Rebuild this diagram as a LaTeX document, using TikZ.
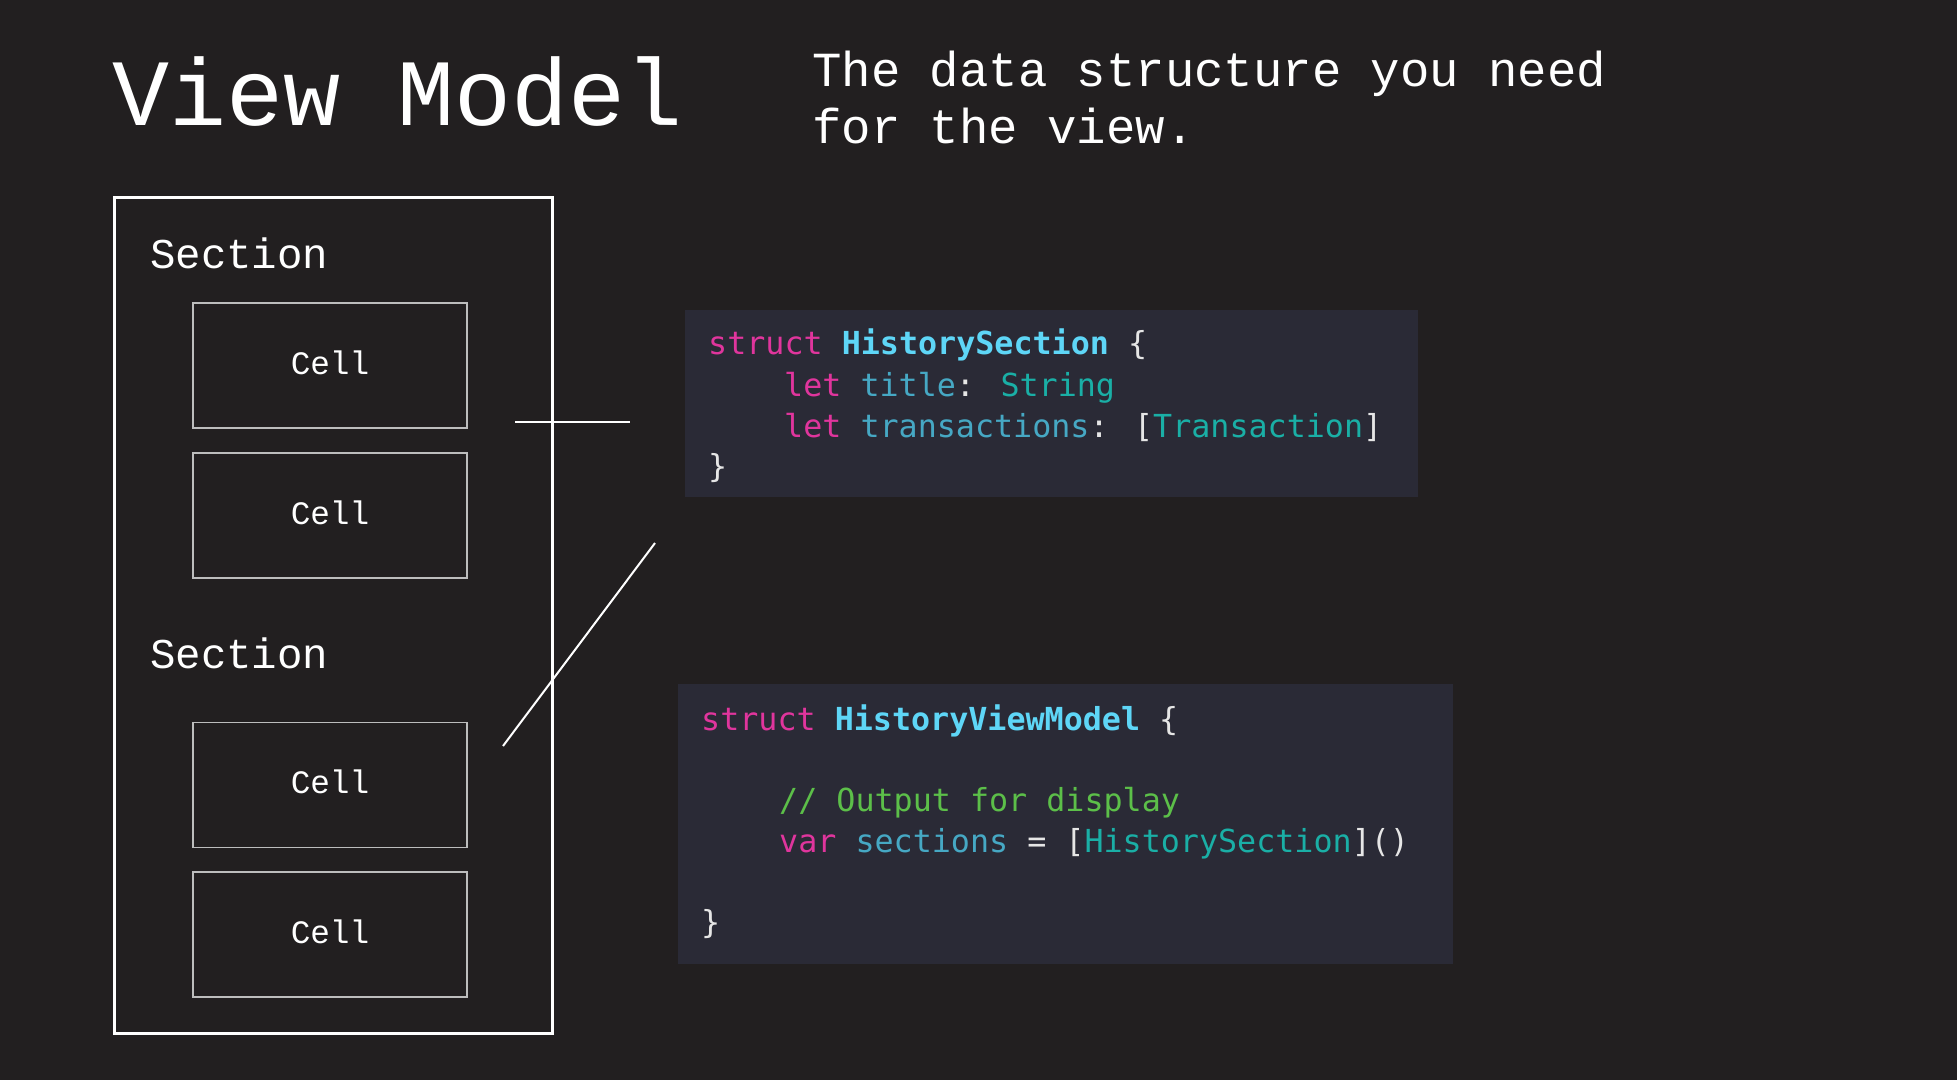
\documentclass[tikz,border=0pt]{standalone}
\usepackage{fontspec}
\newfontfamily\labelfont{Liberation Mono}
\newfontfamily\codefont{DejaVu Sans Mono}

\definecolor{bg}{HTML}{221F20}
\definecolor{codebg}{HTML}{2A2A36}
\definecolor{kwpink}{HTML}{E0359D}
\definecolor{typecyan}{HTML}{5ED6F7}
\definecolor{propteal}{HTML}{46A8C4}
\definecolor{typeteal}{HTML}{1AAFA6}
\definecolor{commentgreen}{HTML}{5CBF49}
\definecolor{codewhite}{HTML}{E6E6E6}
\definecolor{cellgray}{HTML}{BDBDBD}

\tikzset{
  titletext/.style={anchor=base west, inner sep=0pt, text=white, font=\labelfont\fontsize{95}{100}\selectfont},
  subtitletext/.style={anchor=base west, inner sep=0pt, text=white, font=\labelfont\fontsize{49}{55}\selectfont},
  sectiontext/.style={anchor=base west, inner sep=0pt, text=white, font=\labelfont\fontsize{42.4}{48}\selectfont},
  outerbox/.style={anchor=north west, draw=white, line width=2.5pt, minimum width=438pt, minimum height=836pt},
  cellbox/.style={draw=cellgray, line width=1.3pt, minimum width=274pt, minimum height=125pt, text height=26pt, text depth=9pt, text=white, font=\labelfont\fontsize{32.7}{36}\selectfont},
  codebox/.style={anchor=north west, fill=codebg, inner sep=0pt},
  codeline/.style={anchor=base west, inner sep=0pt, text=codewhite, font=\codefont\fontsize{31.7}{38}\selectfont},
  connector/.style={draw=white, line width=2pt}
}

\newcommand{\kw}[1]{\textcolor{kwpink}{#1}}
\newcommand{\tyname}[1]{\textcolor{typecyan}{\bfseries #1}}
\newcommand{\prop}[1]{\textcolor{propteal}{#1}}
\newcommand{\tyref}[1]{\textcolor{typeteal}{#1}}

\begin{document}
\begin{tikzpicture}[x=1pt,y=-1pt]

   \fill [bg] (0,0) rectangle (1957,1080);
   \useasboundingbox (0,0) rectangle (1957,1080);

   \node (Title) at (112,125) [titletext] {View Model};
   \node (SubtitleTop) at (812,86) [subtitletext] {The data structure you need};
   \node (SubtitleBottom) at (812,143) [subtitletext] {for the view.};

   % the view model box
   \node (ViewModelBox) at (113,196) [outerbox] {};

   \node (SectionA) at (150,268) [sectiontext] {Section};
   \node (CellA) at (330,365.5) [cellbox] {Cell};
   \node (CellB) at (330,515.5) [cellbox] {Cell};

   \node (SectionB) at (150,668) [sectiontext] {Section};
   \node (CellC) at (330,785) [cellbox] {Cell};
   \node (CellD) at (330,934.5) [cellbox] {Cell};

   % code
   \node (HistorySectionBox) at (685,310) [codebox, minimum width=733pt, minimum height=187pt] {};
   \node (HSLineA) at (708,354) [codeline] {\kw{struct} \tyname{HistorySection} \{};
   \node (HSLineB) at (784,396) [codeline] {\kw{let} \prop{title}: \tyref{String}};
   \node (HSLineC) at (784,437) [codeline] {\kw{let} \prop{transactions}: [\tyref{Transaction}]};
   \node (HSLineD) at (708,477) [codeline] {\}};

   \node (HistoryViewModelBox) at (678,684) [codebox, minimum width=775pt, minimum height=280pt] {};
   \node (HVLineA) at (701,730) [codeline] {\kw{struct} \tyname{HistoryViewModel} \{};
   \node (HVLineB) at (779,811) [codeline] {\textcolor{commentgreen}{// Output for display}};
   \node (HVLineC) at (779,852) [codeline] {\kw{var} \prop{sections} = [\tyref{HistorySection}]()};
   \node (HVLineD) at (701,933) [codeline] {\}};

   \coordinate (SectionTickStart) at (515,422);
   \coordinate (SectionTickEnd) at (630,422);
   \coordinate (ViewModelTickStart) at (503,746);
   \coordinate (ViewModelTickEnd) at (655,543);

   \draw [connector] (SectionTickStart) -- (SectionTickEnd);
   \draw [connector] (ViewModelTickStart) -- (ViewModelTickEnd);

\end{tikzpicture}
\end{document}
